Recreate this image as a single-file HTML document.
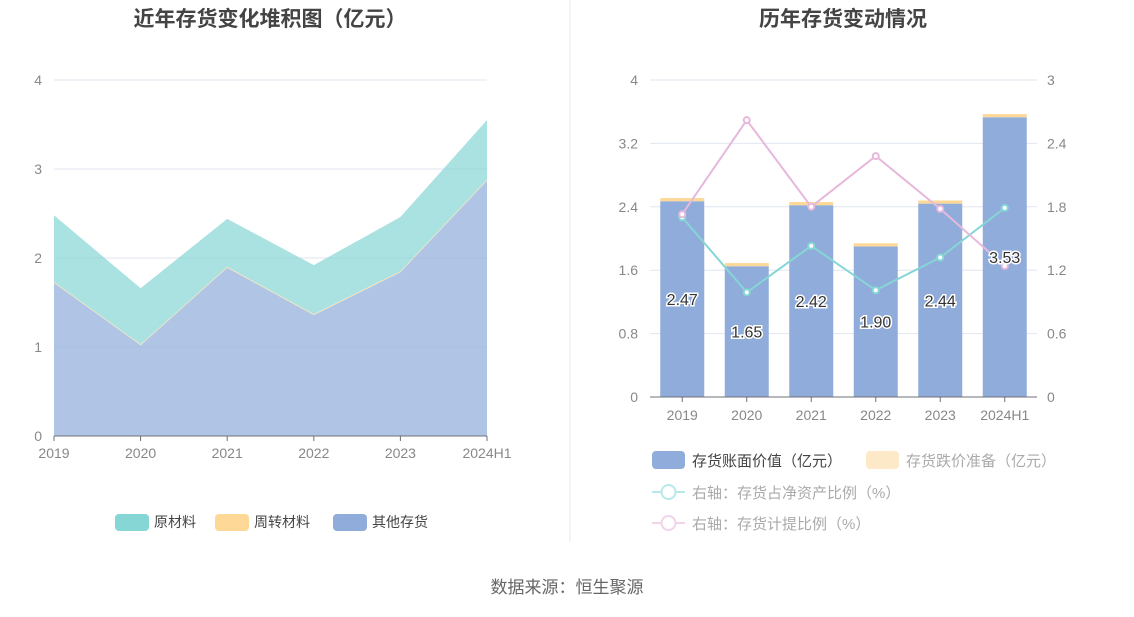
<!DOCTYPE html>
<html><head><meta charset="utf-8">
<style>
html,body{margin:0;padding:0;background:#fff;}
body{width:1134px;height:612px;overflow:hidden;font-family:"Liberation Sans","Noto Sans CJK SC",sans-serif;}
svg text{font-family:"Liberation Sans","Noto Sans CJK SC",sans-serif;}
</style></head>
<body>
<svg id="chart" width="1134" height="612" xmlns="http://www.w3.org/2000/svg">
<text x="270" y="26" text-anchor="middle" font-size="21" font-weight="bold" fill="#444">近年存货变化堆积图（亿元）</text>
<text x="843" y="26" text-anchor="middle" font-size="21" font-weight="bold" fill="#444">历年存货变动情况</text>
<line x1="570" y1="0" x2="570" y2="542" stroke="#e8e8e8"/>
<text x="567" y="593" text-anchor="middle" font-size="17" fill="#666">数据来源：恒生聚源</text>
<g id="left"></g>
<g id="right"></g>
</svg>
<script>
const categories = ['2019','2020','2021','2022','2023','2024H1'];
const rawMaterial = [0.75,0.63,0.54,0.55,0.61,0.67];
const turnoverMaterial = [0.01,0.01,0.01,0.01,0.01,0.01];
const otherInventory = [1.72,1.02,1.89,1.36,1.84,2.87];
const leftTicks = [0,1,2,3,4];
const bookValue = [2.47,1.65,2.42,1.90,2.44,3.53];
const reserveValue = [0.04,0.04,0.04,0.04,0.04,0.04];
const netAssetRatio = [1.70,0.99,1.43,1.01,1.32,1.79];
const provisionRatio = [1.73,2.62,1.80,2.28,1.78,1.24];
const rightLeftTicks = [0,0.8,1.6,2.4,3.2,4];
const rightRightTicks = [0,0.6,1.2,1.8,2.4,3];

const NS='http://www.w3.org/2000/svg';
function mk(parent,tag,attrs,txt){const e=document.createElementNS(NS,tag);for(const k in attrs)e.setAttribute(k,attrs[k]);if(txt!==undefined)e.textContent=txt;parent.appendChild(e);return e;}

// Left chart
const L=document.getElementById('left');
const lx0=54,lx1=487,ly0=436,ly1=80,lmax=4;
const lx=i=>lx0+i*(lx1-lx0)/(categories.length-1);
const ly=v=>ly0-(v/lmax)*(ly0-ly1);
leftTicks.forEach(t=>{
  const g=mk(L,'line',{x1:lx0,x2:lx1,y1:ly(t),y2:ly(t),stroke:'#e0e6f1'});
  
  
  const tx=mk(L,'text',{x:42,y:ly(t)+5,'text-anchor':'end','font-size':14,fill:'#888'},String(t));
  
  
});
const s1=otherInventory, s2=otherInventory.map((v,i)=>v+turnoverMaterial[i]), s3=s2.map((v,i)=>v+rawMaterial[i]);
function area(top,bot,fill,name){
  let d='M'+top.map((v,i)=>lx(i)+','+ly(v)).join('L');
  for(let i=bot.length-1;i>=0;i--)d+='L'+lx(i)+','+ly(bot[i]);
  const p=mk(L,'path',{d:d+'Z',fill:fill});
  
  
}
const zeros=categories.map(()=>0);
area(s1,zeros,'rgba(143,172,218,0.7)','area-other-inventory');
area(s2,s1,'rgba(253,216,150,0.7)','area-turnover-material');
area(s3,s2,'rgba(134,214,214,0.7)','area-raw-material');
mk(L,'line',{x1:lx0,x2:lx1,y1:ly0,y2:ly0,stroke:'#6e7079'});
categories.forEach((c,i)=>{
  mk(L,'line',{x1:lx(i),x2:lx(i),y1:ly0,y2:ly0+5,stroke:'#6e7079'});
  const t=mk(L,'text',{x:lx(i),y:ly0+22,'text-anchor':'middle','font-size':14,fill:'#888'},c);
  
  
});
[['原材料','#86d6d6',115],['周转材料','#fdd896',215],['其他存货','#8facda',333]].forEach(([n,c,x])=>{
  const g=mk(L,'g',{});
  
  
  mk(g,'rect',{x:x,y:514,width:34,height:17,rx:4,fill:c});
  mk(g,'text',{x:x+39,y:527,'font-size':14,fill:'#444'},n);
});

// Right chart
const R=document.getElementById('right');
const rx0=650,rx1=1037,ry0=397,ry1=80;
const bw=(rx1-rx0)/categories.length;
const rcx=i=>rx0+bw*(i+0.5);
const ryl=v=>ry0-(v/4)*(ry0-ry1);
const ryr=v=>ry0-(v/3)*(ry0-ry1);
rightLeftTicks.forEach((t,k)=>{
  const g=mk(R,'line',{x1:rx0,x2:rx1,y1:ryl(t),y2:ryl(t),stroke:'#e0e6f1'});
  
  
  const a=mk(R,'text',{x:638,y:ryl(t)+5,'text-anchor':'end','font-size':14,fill:'#888'},String(t));
  
  
});
rightRightTicks.forEach(t=>{
  const a=mk(R,'text',{x:1047,y:ryr(t)+5,'text-anchor':'start','font-size':14,fill:'#888'},String(t));
  
  
});
categories.forEach((c,i)=>{
  const b=mk(R,'rect',{x:rcx(i)-22,y:ryl(bookValue[i]),width:44,height:ry0-ryl(bookValue[i]),fill:'#8facda'});
  
  
  const top=bookValue[i]+reserveValue[i];
  const r=mk(R,'rect',{x:rcx(i)-22,y:ryl(top),width:44,height:ryl(bookValue[i])-ryl(top),fill:'#fdd896'});
  
  
});
mk(R,'line',{x1:rx0,x2:rx1,y1:ry0,y2:ry0,stroke:'#6e7079'});
categories.forEach((c,i)=>{
  mk(R,'line',{x1:rcx(i),x2:rcx(i),y1:ry0,y2:ry0+5,stroke:'#6e7079'});
  const t=mk(R,'text',{x:rcx(i),y:ry0+23,'text-anchor':'middle','font-size':14,fill:'#888'},c);
  
  
});
function line(vals,color,name){
  const p=mk(R,'polyline',{points:vals.map((v,i)=>rcx(i)+','+ryr(v)).join(' '),fill:'none',stroke:color,'stroke-width':2});
  
  
  vals.forEach((v,i)=>{
    const c=mk(R,'circle',{cx:rcx(i),cy:ryr(v),r:3,fill:'#fff',stroke:color,'stroke-width':2});
    
    
  });
}
line(netAssetRatio,'#86d6d6','line-net-asset-ratio');
line(provisionRatio,'#e6b8dc','line-provision-ratio');
bookValue.forEach((v,i)=>{
  const t=mk(R,'text',{x:rcx(i),y:ryl(v/2)+6,'text-anchor':'middle','font-size':16,fill:'#333',stroke:'#fff','stroke-width':3,'paint-order':'stroke'},v.toFixed(2));
  
  
});
const lg=[[652,450,'rect','#8facda','存货账面价值（亿元）','#444'],[866,450,'rect','#fde9c8','存货跌价准备（亿元）','#aaa'],
[652,482,'line','#b8e8ea','右轴：存货占净资产比例（%）','#aaa'],[652,513,'line','#f2d4ea','右轴：存货计提比例（%）','#aaa']];
lg.forEach(([x,y,k,c,n,tc])=>{
  const g=mk(R,'g',{});
  
  
  if(k==='rect')mk(g,'rect',{x:x,y:y+1,width:33,height:18,rx:4,fill:c});
  else{mk(g,'line',{x1:x,x2:x+33,y1:y+10,y2:y+10,stroke:c,'stroke-width':2});mk(g,'circle',{cx:x+16.5,cy:y+10,r:7,fill:'#fff',stroke:c,'stroke-width':2});}
  mk(g,'text',{x:x+40,y:y+16,'font-size':15,fill:tc},n);
});
</script>
</body></html>
